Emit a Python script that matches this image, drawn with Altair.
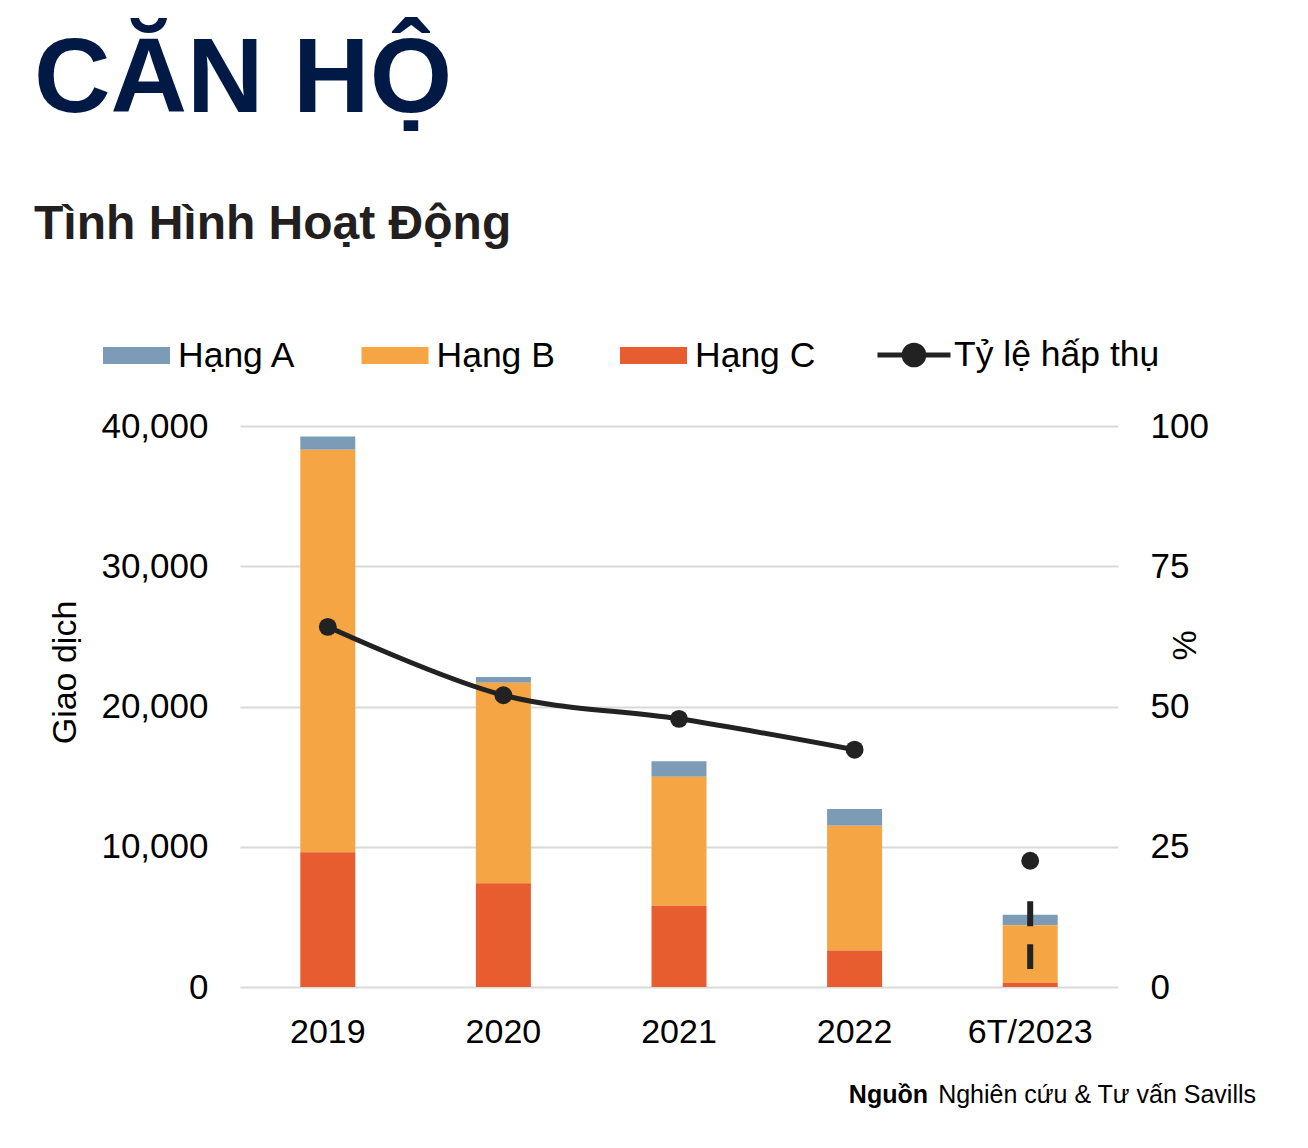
import altair as alt
import pandas as pd

years = ["2019", "2020", "2021", "2022", "6T/2023"]
hang_a = [950, 400, 1100, 1200, 750]
hang_b = [28700, 14300, 9200, 8900, 4100]
hang_c = [9600, 7400, 5800, 2600, 300]
absorption = [64.2, 52.0, 47.8, 42.3, 22.5]
dash_range = [15.3, 3.2]  # dashed marker on 6T/2023 (right axis, %)

series_names = ["Hạng A", "Hạng B", "Hạng C"]
series_colors = ["#7b9bb7", "#f5a544", "#e85d30"]
line_name = "Tỷ lệ hấp thụ"
FONT = "Liberation Sans"

rows = []
for i, y in enumerate(years):
    for name, vals, rank in zip(series_names, [hang_a, hang_b, hang_c], [2, 1, 0]):
        rows.append({"year": y, "hang": name, "value": vals[i], "rank": rank})
bars_df = pd.DataFrame(rows)

line_df = pd.DataFrame({"year": years, "pct": absorption, "series": [line_name] * len(years)})
dash_df = pd.DataFrame({"year": [years[-1]], "top": [dash_range[0]], "bottom": [dash_range[1]]})

x_enc = alt.X(
    "year:N",
    sort=years,
    title=None,
    scale=alt.Scale(paddingInner=0.0, paddingOuter=0.0),
    axis=alt.Axis(labelAngle=0, ticks=False, domain=False, labelFontSize=34,
                  labelFont=FONT, labelColor="#000000", labelPadding=28),
)

bars = alt.Chart(bars_df).mark_bar(size=55).encode(
    x=x_enc,
    y=alt.Y(
        "value:Q",
        stack="zero",
        scale=alt.Scale(domain=[0, 40000], nice=False),
        axis=alt.Axis(
            values=[0, 10000, 20000, 30000, 40000], format=",.0f", title="Giao dịch",
            grid=True, gridColor="#d9d9d9", gridWidth=2, ticks=False, domain=False,
            labelFontSize=35, labelFont=FONT, labelColor="#000000", labelPadding=32,
            titleFontSize=34, titleFont=FONT, titleFontWeight="normal", titleColor="#000000",
            titleAngle=-90, titleX=-175, titleY=246, titleAlign="center", titleBaseline="middle",
        ),
    ),
    color=alt.Color(
        "hang:N",
        scale=alt.Scale(domain=series_names, range=series_colors),
        legend=alt.Legend(
            title=None, orient="none", legendX=-137, legendY=-104, direction="horizontal",
            symbolType="M-1,-0.254H1V0.254H-1Z", symbolSize=4489, symbolStrokeWidth=0,
            labelFontSize=35.5, labelFont=FONT, labelColor="#000000", labelOffset=8,
            columnPadding=62.5, gridAlign="all", labelLimit=400,
        ),
    ),
    order=alt.Order("rank:Q", sort="ascending"),
)

y_right_scale = alt.Scale(domain=[0, 100], nice=False)
y_right_axis = alt.Axis(
    orient="right", values=[0, 25, 50, 75, 100], title="%", grid=False, ticks=False,
    domain=False, labelFontSize=35, labelFont=FONT, labelColor="#000000", labelPadding=32,
    titleFontSize=34, titleFont=FONT, titleFontWeight="normal", titleColor="#000000",
    titleAngle=-90, titleX=67, titleY=219, titleAlign="center", titleBaseline="middle",
)

line = alt.Chart(line_df).transform_filter(
    alt.FieldOneOfPredicate(field="year", oneOf=years[:4])
).mark_line(strokeWidth=5, interpolate="catmull-rom").encode(
    x=alt.X("year:N", sort=years),
    y=alt.Y("pct:Q", scale=y_right_scale, axis=y_right_axis),
    stroke=alt.Stroke(
        "series:N",
        scale=alt.Scale(domain=[line_name], range=["#222222"]),
        legend=alt.Legend(
            title=None, orient="none", legendX=635, legendY=-110,
            symbolType="M-1,0H1M-0.27,0A0.27,0.27,0,1,1,0.27,0A0.27,0.27,0,1,1,-0.27,0Z",
            symbolSize=5329, symbolStrokeWidth=5, symbolFillColor="#222222",
            labelFontSize=35.5, labelFont=FONT, labelColor="#000000", labelOffset=1,
            labelLimit=400,
        ),
    ),
)

points = alt.Chart(line_df).mark_circle(size=320, opacity=1, color="#222222").encode(
    x=alt.X("year:N", sort=years),
    y=alt.Y("pct:Q", scale=y_right_scale, axis=y_right_axis),
)

dash = alt.Chart(dash_df).mark_rule(strokeWidth=6, strokeDash=[25, 18], color="#222222").encode(
    x=alt.X("year:N", sort=years),
    y=alt.Y("top:Q", scale=y_right_scale, axis=y_right_axis),
    y2="bottom:Q",
)

src_bold = alt.Chart(pd.DataFrame({"t": ["Nguồn"]})).mark_text(
    font=FONT, fontSize=25, fontWeight="bold", align="right", baseline="alphabetic", color="#000000"
).encode(text="t:N", x=alt.value(688), y=alt.value(677))

src_text = alt.Chart(pd.DataFrame({"t": ["Nghiên cứu & Tư vấn Savills"]})).mark_text(
    font=FONT, fontSize=25, align="right", baseline="alphabetic", color="#000000"
).encode(text="t:N", x=alt.value(1016), y=alt.value(677))

right_layer = alt.layer(line, points, dash)

chart = alt.layer(bars, right_layer, src_bold, src_text).resolve_scale(
    y="independent", color="independent"
).properties(
    width=878,
    height=561,
    background="#ffffff",
    title=alt.TitleParams(
        text="CĂN HỘ",
        subtitle="Tình Hình Hoạt Động",
        anchor="start",
        frame="group",
        dx=-206,
        offset=66,
        font=FONT,
        fontSize=106,
        fontWeight="bold",
        color="#001a45",
        subtitleFont=FONT,
        subtitleFontSize=48,
        subtitleFontWeight="bold",
        subtitleColor="#231f20",
        subtitlePadding=67,
    ),
    autosize=alt.AutoSizeParams(type="none"),
    padding={"left": 232, "top": 418, "right": 182, "bottom": 150},
).configure_view(strokeWidth=0, stroke="transparent")

chart.save("out.html", embed_options={"renderer": "svg", "actions": False})
